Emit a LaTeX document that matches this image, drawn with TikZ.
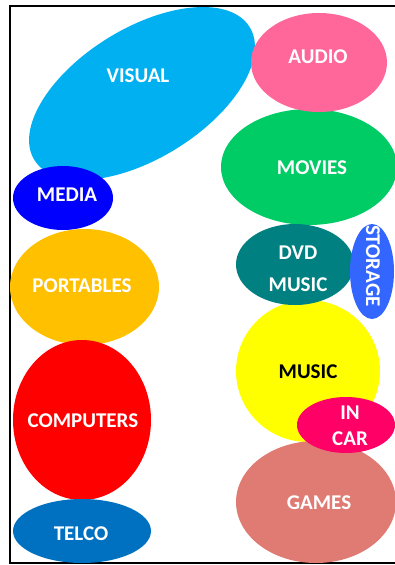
\documentclass[tikz,border=0pt]{standalone}
\usepackage{fontspec}
\setmainfont{Carlito}
\usetikzlibrary{shapes.geometric}

\definecolor{cVisual}{HTML}{00B0F0}
\definecolor{cAudio}{HTML}{FF6699}
\definecolor{cMovies}{HTML}{00CC66}
\definecolor{cDvd}{HTML}{008080}
\definecolor{cStorage}{HTML}{3366FF}
\definecolor{cMusic}{HTML}{FFFF00}
\definecolor{cInCar}{HTML}{FF0066}
\definecolor{cGames}{HTML}{E07B73}
\definecolor{cMedia}{HTML}{0000FF}
\definecolor{cPortables}{HTML}{FFC000}
\definecolor{cComputers}{HTML}{FF0000}
\definecolor{cTelco}{HTML}{0070C0}

\tikzset{
  blob/.style={ellipse, draw=none, inner sep=0pt, outer sep=0pt},
  lbl/.style={inner sep=0pt, text=white, align=center,
    font=\fontsize{21}{25}\selectfont\bfseries},
}

\begin{document}
\begin{tikzpicture}[x=1pt, y=-1pt]
  \useasboundingbox (0,0) rectangle (395,565);
  \clip (0,0) rectangle (395,565);

  % page frame, open on the right
  \draw[line width=2pt, black] (400,6) -- (10,6) -- (10,563) -- (400,563);

  % right-hand column
  \node[blob, fill=cVisual, minimum width=253, minimum height=130, rotate=31.7] (visual) at (142,93.5) {};
  \node[blob, fill=cMovies, minimum width=176, minimum height=116] (movies) at (309,167) {};
  \node[blob, fill=cAudio, minimum width=136, minimum height=99] (audio) at (319,62.5) {};
  \node[blob, fill=cMusic, minimum width=144, minimum height=142] (music) at (308,371) {};
  \node[blob, fill=cDvd, minimum width=118, minimum height=81] (dvd) at (295,264.5) {};
  \node[blob, fill=cStorage, minimum width=44, minimum height=95] (storage) at (372,271.5) {};
  \node[blob, fill=cGames, minimum width=160, minimum height=122] (games) at (316,502) {};
  \node[blob, fill=cInCar, minimum width=98, minimum height=56] (incar) at (346,425) {};

  % left-hand column
  \node[blob, fill=cMedia, minimum width=100, minimum height=64] (media) at (63,198) {};
  \node[blob, fill=cPortables, minimum width=149, minimum height=116] (portables) at (84.5,287) {};
  \node[blob, fill=cComputers, minimum width=138, minimum height=160] (computers) at (82,420) {};
  \node[blob, fill=cTelco, minimum width=138, minimum height=64] (telco) at (82,531) {};

  % labels
  \node[lbl] (visual-l) at (138,76) {VISUAL};
  \node[lbl] (audio-l) at (318,57) {AUDIO};
  \node[lbl] (movies-l) at (312,168) {MOVIES};
  \node[lbl, font=\fontsize{21}{32}\selectfont\bfseries] (dvd-l) at (298,269) {DVD\\MUSIC};
  \node[lbl, rotate=-90] (storage-l) at (373,266) {STORAGE};
  \node[lbl, text=black] (music-l) at (308,372) {MUSIC};
  \node[lbl, font=\fontsize{21}{26}\selectfont\bfseries] (incar-l) at (350,426) {IN\\CAR};
  \node[lbl] (games-l) at (319,503) {GAMES};
  \node[lbl] (media-l) at (67,195) {MEDIA};
  \node[lbl] (portables-l) at (82,286) {PORTABLES};
  \node[lbl] (computers-l) at (83,421) {COMPUTERS};
  \node[lbl] (telco-l) at (81,534) {TELCO};
\end{tikzpicture}
\end{document}
